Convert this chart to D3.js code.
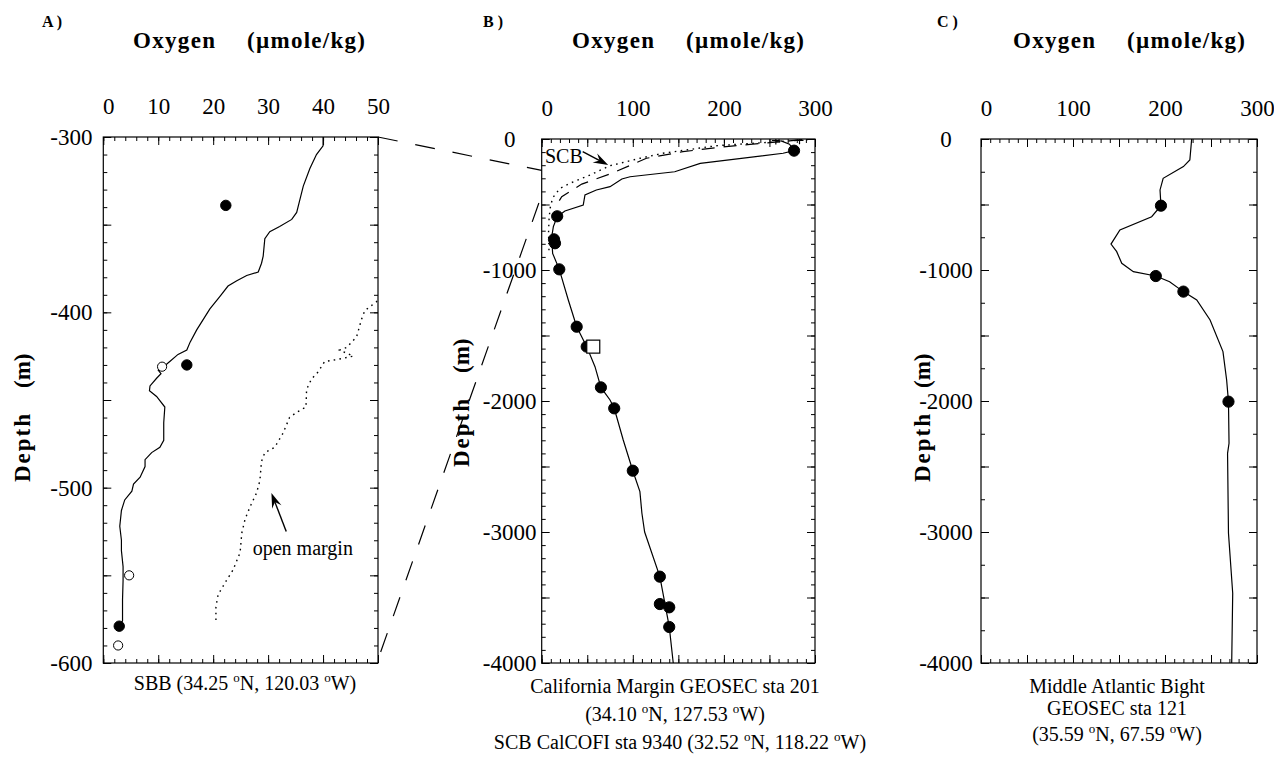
<!DOCTYPE html>
<html>
<head>
<meta charset="utf-8">
<script src="https://cdn.jsdelivr.net/npm/d3@7"></script>
<style>
  body { margin: 0; background: #fff; }
  text { font-family: "Liberation Serif", "Times New Roman", Times, serif; fill: #000; }
  .axis path { display: none; }
  .axis line { stroke: #000; stroke-width: 1; }
</style>
</head>
<body>
<svg id="fig" width="1274" height="758"></svg>
<script>
// ---- data (oxygen umol/kg, depth m) ----
// panel A : Santa Barbara Basin
var sbbProfile = [[40.0,-300],[40.0,-305],[38.8,-310],[37.6,-318],[36.4,-328],[35.6,-338],[35.2,-343],[34.3,-347],
  [32.1,-351],[30.3,-354],[29.4,-358],[29.1,-368],[28.8,-372],[28.2,-377],[26.1,-379],[24.3,-382],[22.7,-385],
  [21.2,-391],[19.4,-398],[18.2,-404],[17.0,-410],[15.8,-417],[15.2,-421.5],[13.6,-424],[12.1,-428],[10.6,-432],
  [10.0,-433],[10.5,-435],[9.7,-437.6],[8.5,-442],[8.4,-444.7],[9.7,-448],[11.2,-454],[11.0,-463],[11.0,-473],
  [10.3,-477],[8.8,-480],[7.6,-484],[7.6,-488],[6.7,-494],[5.5,-498],[5.2,-502],[3.9,-507],[3.3,-513],[3.0,-522],
  [3.3,-530],[3.3,-536],[3.6,-545],[3.6,-553],[3.5,-564],[3.5,-576],[2.9,-579]];
var openMargin = [[50.5,-391],[49.7,-394],[47.6,-399],[47.0,-404],[46.1,-414],[44.3,-420],[43.0,-421.5],[45.5,-425],
  [42.4,-427],[40.3,-428],[39.1,-434],[37.9,-438],[37.0,-444],[36.9,-454],[35.2,-457],[33.9,-460],[32.7,-469],
  [31.2,-477],[29.4,-480],[28.8,-485],[28.5,-496],[27.9,-503],[26.7,-511],[25.8,-518],[25.2,-526],[24.9,-537],
  [23.6,-547],[22.4,-553],[20.9,-561],[20.5,-568],[20.5,-576]];
var sbbFilled = [[22.3,-339],[15.2,-430],[2.9,-579]];
var sbbOpen = [[10.7,-431],[4.7,-550],[2.7,-590]];

// panel B : California margin GEOSEC 201 + SCB CalCOFI 9340
var geosec201 = [[262,-12],[272,-40],[277,-89],[265,-109],[174,-186],[146,-250],[97,-288],[88,-305],[75,-364],
  [60,-389],[47.5,-427],[45.6,-504],[25.5,-550],[17,-593],[12.8,-669],[11,-746],[12,-873],[19.3,-995],[29.2,-1229],
  [38.4,-1433],[49.4,-1585],[58.5,-1738],[65,-1896],[75,-1992],[79.6,-2056],[89.5,-2298],[100,-2532],[107.8,-2692],
  [110,-2857],[113,-3000],[129.7,-3341],[140,-3723],[144.4,-4000]];
var geosec201Pts = [[277,-89],[17,-590],[13.5,-766],[14.6,-796],[19.3,-995],[38.4,-1433],[49.4,-1585],[65,-1896],
  [79.6,-2056],[100,-2532],[129.7,-3341],[129.7,-3550],[140,-3575],[140,-3725]];
var geosec201Square = [[56.6,-1585]];
var scbDotted = [[292,-5],[250,-25],[192,-51],[133,-109],[108,-147],[75,-204],[53,-275],[31,-338],[20,-377],
  [12,-450],[9.2,-530],[8,-620],[7.5,-720],[8,-850]];
var scbDashed = [[286,-5],[228.6,-41],[192,-66],[155,-97],[115,-147],[77,-262],[44,-344],[22,-440],[16.4,-504]];
var scbCrosses = [[257,-12],[283,-10]];

// panel C : Middle Atlantic Bight GEOSEC 121
var geosec121 = [[229,0],[227,-160],[220,-211],[198,-300],[194.6,-389],[195.6,-509],[185.5,-593],[151,-695],
  [141.3,-802],[147.5,-860],[153,-949],[165.6,-1013],[190,-1046],[205,-1089],[219.9,-1165],[234.5,-1229],
  [249,-1382],[263,-1623],[267,-1840],[269,-2005],[269.6,-2323],[268,-2400],[269,-3010],[273.6,-3468],[272.5,-4000]];
var geosec121Pts = [[195.6,-509],[190,-1046],[220,-1165],[269,-2005]];

// tick labels
var aXLabels = [0, 10, 20, 30, 40, 50], aYLabels = [-300, -400, -500, -600];
var bXLabels = [0, 100, 200, 300], bYLabels = [0, -1000, -2000, -3000, -4000];
var cXLabels = [0, 100, 200, 300], cYLabels = [0, -1000, -2000, -3000, -4000];

var svg = d3.select("#fig");
var serif = '"Liberation Serif", "Times New Roman", Times, serif';

function range(dom, step) {
  var lo = Math.min(dom[0], dom[1]), hi = Math.max(dom[0], dom[1]);
  return d3.range(lo, hi + step / 2, step);
}

function panel(c) {
  var g = svg.append("g");
  var x = d3.scaleLinear().domain(c.xDom).range([c.left, c.right]);
  var y = d3.scaleLinear().domain(c.yDom).range([c.top, c.bottom]);

  // ticks pointing inward on all four sides
  var sides = [
    { ax: d3.axisTop, sc: x, tr: "translate(0," + c.top + ")", dom: c.xDom, minor: c.xMinor, major: c.xMajor },
    { ax: d3.axisBottom, sc: x, tr: "translate(0," + c.bottom + ")", dom: c.xDom, minor: c.xMinor, major: c.xMajor },
    { ax: d3.axisLeft, sc: y, tr: "translate(" + c.left + ",0)", dom: c.yDom, minor: c.yMinor, major: c.yMajor },
    { ax: d3.axisRight, sc: y, tr: "translate(" + c.right + ",0)", dom: c.yDom, minor: c.yMinor, major: c.yMajor }
  ];
  sides.forEach(function(s) {
    g.append("g").attr("class", "axis").attr("transform", s.tr)
      .call(s.ax(s.sc).tickValues(range(s.dom, s.minor)).tickSize(-4).tickFormat(""));
    g.append("g").attr("class", "axis").attr("transform", s.tr)
      .call(s.ax(s.sc).tickValues(range(s.dom, s.major)).tickSize(-8).tickFormat(""));
  });

  // tick labels (top and left only)
  g.append("g").attr("class", "axis").attr("transform", "translate(0," + c.top + ")")
    .call(d3.axisTop(x).tickValues(c.xLabels).tickSize(0).tickPadding(23).tickFormat(function(d) { return String(d); }))
    .selectAll("text").style("font-size", "23px").style("font-family", serif)
    .attr("dx", function(d) { return d === 0 ? 5 : 0; });
  g.append("g").attr("class", "axis").attr("transform", "translate(" + c.left + ",0)")
    .call(d3.axisLeft(y).tickValues(c.yLabels).tickSize(0).tickFormat(function(d) { return String(d); }))
    .selectAll("text").attr("text-anchor", "middle").attr("x", c.labelX)
    .style("font-size", "23px").style("font-family", serif);

  g.append("rect").attr("x", c.left).attr("y", c.top)
    .attr("width", c.right - c.left).attr("height", c.bottom - c.top)
    .attr("fill", "none").attr("stroke", "#000").attr("stroke-width", 1.2);

  var clipId = "clip" + c.id;
  svg.append("clipPath").attr("id", clipId).append("rect")
    .attr("x", c.left).attr("y", c.top).attr("width", c.right - c.left).attr("height", c.bottom - c.top);
  var plot = g.append("g").attr("clip-path", "url(#" + clipId + ")");

  // titles
  g.append("text").attr("x", c.letterX).attr("y", 27).style("font-weight", "bold").style("font-size", "16px").text(c.letter + " )");
  g.append("text").attr("x", c.oxyX).attr("y", 48).attr("textLength", 82).attr("lengthAdjust", "spacing")
    .style("font-weight", "bold").style("font-size", "23px").text("Oxygen");
  g.append("text").attr("x", c.oxyX + 114).attr("y", 48).attr("textLength", 118).attr("lengthAdjust", "spacing")
    .style("font-weight", "bold").style("font-size", "23px").text("(\u00b5mole/kg)");
  g.append("text").attr("transform", "translate(" + c.depthX + "," + c.depthY + ") rotate(-90)")
    .attr("textLength", 68).attr("lengthAdjust", "spacing")
    .style("font-weight", "bold").style("font-size", "23px").text("Depth");
  g.append("text").attr("transform", "translate(" + c.depthX + "," + (c.depthY - 94) + ") rotate(-90)")
    .style("font-weight", "bold").style("font-size", "23px").text("(m)");

  return { x: x, y: y, g: g, plot: plot };
}

function line(p) {
  return d3.line().x(function(d) { return p.x(d[0]); }).y(function(d) { return p.y(d[1]); });
}

function dots(p, data, filled, r) {
  p.g.selectAll(null).data(data).enter().append("circle")
    .attr("cx", function(d) { return p.x(d[0]); })
    .attr("cy", function(d) { return p.y(d[1]); })
    .attr("r", r)
    .attr("fill", filled ? "#000" : "#fff")
    .attr("stroke", "#000").attr("stroke-width", 1);
}

function arrow(g, x1, y1, x2, y2) {
  var a = Math.atan2(y2 - y1, x2 - x1), L = 15, W = 5;
  g.append("line").attr("x1", x1).attr("y1", y1)
    .attr("x2", x2 - Math.cos(a) * 8).attr("y2", y2 - Math.sin(a) * 8)
    .attr("stroke", "#000").attr("stroke-width", 1.4);
  var bx = x2 - Math.cos(a) * L, by = y2 - Math.sin(a) * L;
  var ix = x2 - Math.cos(a) * L * 0.65, iy = y2 - Math.sin(a) * L * 0.65;
  g.append("path").attr("d", "M" + x2 + "," + y2 +
      "L" + (bx - Math.sin(a) * W) + "," + (by + Math.cos(a) * W) +
      "L" + ix + "," + iy +
      "L" + (bx + Math.sin(a) * W) + "," + (by - Math.cos(a) * W) + "Z")
    .attr("fill", "#000");
}

// caption line with raised "o" degree marks
function caption(x, y, parts) {
  var t = svg.append("text").attr("x", x).attr("y", y).attr("text-anchor", "middle").style("font-size", "20px");
  var back = 0;
  parts.forEach(function(s) {
    if (s === "o") {
      t.append("tspan").attr("dy", -8).style("font-size", "13px").text("o");
      back = 8;
    } else {
      t.append("tspan").attr("dy", back).text(s);
      back = 0;
    }
  });
}

// ---- panel A ----
var A = panel({ id: "A", left: 103.3, right: 378, top: 137, bottom: 663,
  xDom: [0, 50], yDom: [-300, -600], xMinor: 2, xMajor: 10, yMinor: 10, yMajor: 50,
  xLabels: aXLabels, yLabels: aYLabels, labelX: -32,
  letter: "A", letterX: 42, oxyX: 133, depthX: 30, depthY: 482 });

A.plot.append("path").attr("d", line(A)(openMargin)).attr("fill", "none")
  .attr("stroke", "#000").attr("stroke-width", 1.4).attr("stroke-dasharray", "1.6,4.2");
A.plot.append("path").attr("d", line(A)(sbbProfile)).attr("fill", "none")
  .attr("stroke", "#000").attr("stroke-width", 1.2);
dots(A, sbbOpen, false, 4.6);
dots(A, sbbFilled, true, 5.2);
arrow(A.g, A.x(33.3), A.y(-525), A.x(30.6), A.y(-503));
A.g.append("text").attr("x", A.x(27.2)).attr("y", A.y(-538.5)).style("font-size", "20px").text("open margin");

// ---- panel B ----
var B = panel({ id: "B", left: 541.7, right: 815, top: 139, bottom: 663,
  xDom: [0, 300], yDom: [0, -4000], xMinor: 10, xMajor: 50, yMinor: 100, yMajor: 500,
  xLabels: bXLabels, yLabels: bYLabels, labelX: -32,
  letter: "B", letterX: 483, oxyX: 572, depthX: 469, depthY: 467 });

B.plot.append("path").attr("d", line(B)(scbDotted)).attr("fill", "none")
  .attr("stroke", "#000").attr("stroke-width", 1.4).attr("stroke-dasharray", "1.6,4.4");
B.plot.append("path").attr("d", line(B)(scbDashed)).attr("fill", "none")
  .attr("stroke", "#000").attr("stroke-width", 1.2).attr("stroke-dasharray", "13,9");
B.plot.append("path").attr("d", line(B)(geosec201)).attr("fill", "none")
  .attr("stroke", "#000").attr("stroke-width", 1.2);
B.plot.selectAll(null).data(scbCrosses).enter().append("path")
  .attr("transform", function(d) { return "translate(" + B.x(d[0]) + "," + B.y(d[1]) + ")"; })
  .attr("d", "M-4,0H4M0,-4V4").attr("stroke", "#000").attr("stroke-width", 1.2);
dots(B, geosec201Pts, true, 5.6);
B.g.selectAll(null).data(geosec201Square).enter().append("rect")
  .attr("x", function(d) { return B.x(d[0]) - 6.5; }).attr("y", function(d) { return B.y(d[1]) - 6.5; })
  .attr("width", 13).attr("height", 13).attr("fill", "#fff").attr("stroke", "#000").attr("stroke-width", 1.2);
B.g.append("text").attr("x", B.x(3.6)).attr("y", B.y(-183)).style("font-size", "20px").text("SCB");
arrow(B.g, B.x(45), B.y(-97), B.x(73), B.y(-198));

// ---- panel C ----
var C = panel({ id: "C", left: 981, right: 1257, top: 139, bottom: 663,
  xDom: [0, 300], yDom: [0, -4000], xMinor: 10, xMajor: 50, yMinor: 250, yMajor: 500,
  xLabels: cXLabels, yLabels: cYLabels, labelX: -35,
  letter: "C", letterX: 937, oxyX: 1013, depthX: 930, depthY: 482 });

C.plot.append("path").attr("d", line(C)(geosec121)).attr("fill", "none")
  .attr("stroke", "#000").attr("stroke-width", 1.2);
dots(C, geosec121Pts, true, 5.6);

// ---- zoom lines from A to B ----
var zoomLinks = [[[50, -300], [0, -240]], [[50, -598], [0, -427]]];
zoomLinks.forEach(function(l, i) {
  svg.append("line")
    .attr("x1", A.x(l[0][0])).attr("y1", A.y(l[0][1]))
    .attr("x2", B.x(l[1][0])).attr("y2", B.y(l[1][1]))
    .attr("stroke", "#000").attr("stroke-width", 1.2)
    .attr("stroke-dasharray", "20,18").attr("stroke-dashoffset", i ? 30 : 0);
});

// ---- captions ----
caption(245, 690, ["SBB (34.25 ", "o", "N, 120.03 ", "o", "W)"]);
caption(675, 693, ["California Margin GEOSEC sta 201"]);
caption(675, 721, ["(34.10 ", "o", "N, 127.53 ", "o", "W)"]);
caption(680, 749, ["SCB CalCOFI sta 9340 (32.52 ", "o", "N, 118.22 ", "o", "W)"]);
caption(1117, 693, ["Middle Atlantic Bight"]);
caption(1117, 715, ["GEOSEC sta 121"]);
caption(1117, 741, ["(35.59 ", "o", "N, 67.59 ", "o", "W)"]);
</script>
</body>
</html>
